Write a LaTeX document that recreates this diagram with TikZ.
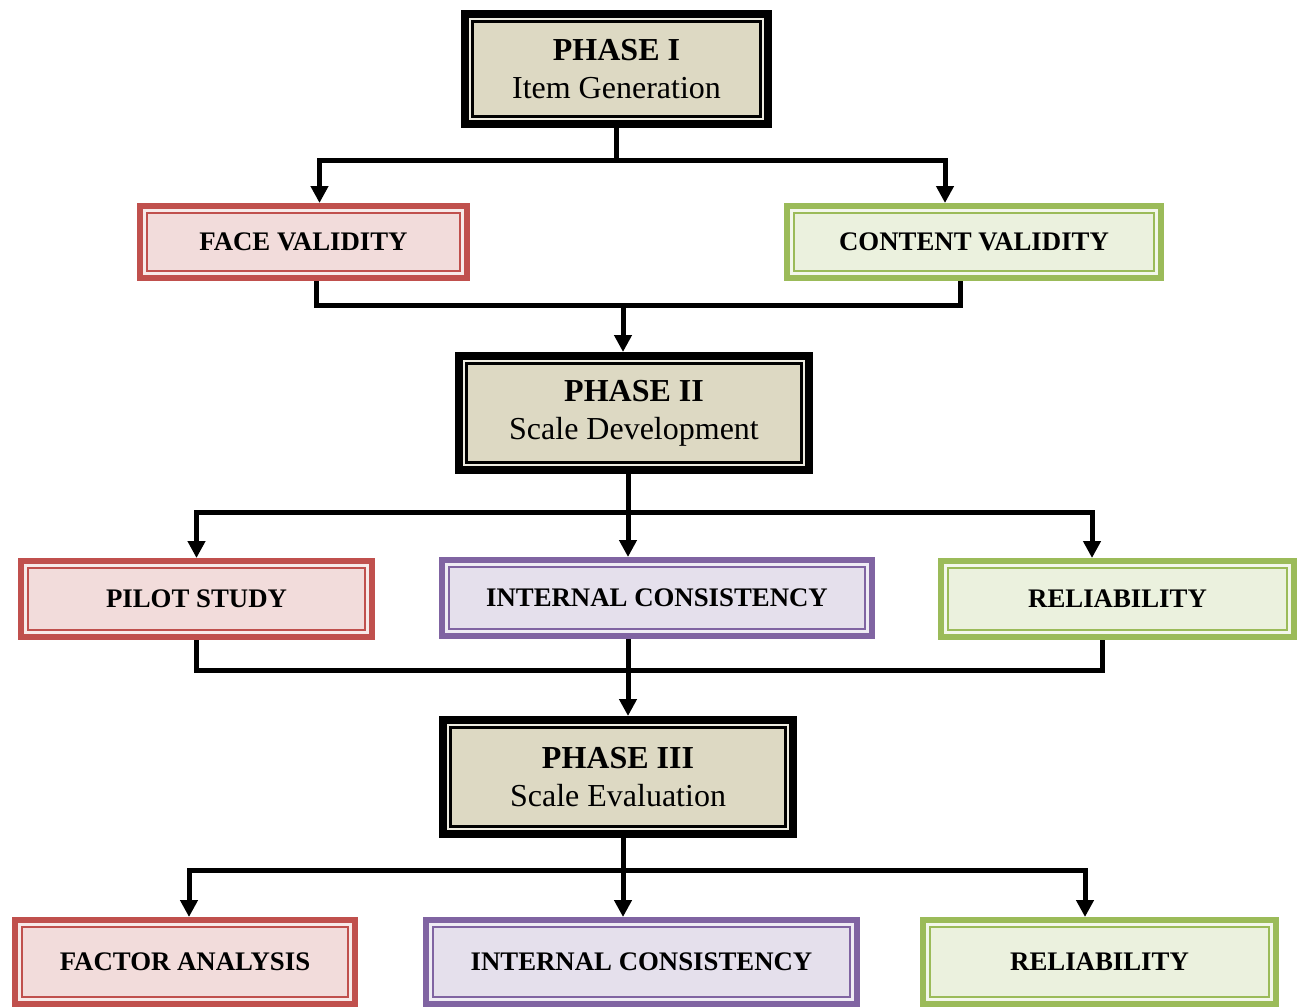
\documentclass[tikz,border=0pt]{standalone}
\usepackage{fontspec}
\setmainfont{Liberation Serif}
\usetikzlibrary{positioning}
\usetikzlibrary{arrows.meta}
\definecolor{phasefill}{HTML}{DDD9C3}
\definecolor{phasegap}{HTML}{EEECE1}
\definecolor{redline}{HTML}{C0504D}
\definecolor{redfill}{HTML}{F2DCDB}
\definecolor{purpleline}{HTML}{8064A2}
\definecolor{purplefill}{HTML}{E5E0EC}
\definecolor{greenline}{HTML}{9BBB59}
\definecolor{greenfill}{HTML}{EBF1DE}
\tikzset{
        boxnode/.style={align=center, inner sep=0pt, font=\bfseries\fontsize{13.4}{15}\selectfont},
        % Thin second frame inside a box: gap colour, line colour, half outer line
        inner_frame/.style n args={3}{path picture={
            \draw[#1, line width=1.1pt] ([shift={(#3+0.55pt,#3+0.55pt)}]path picture bounding box.south west) rectangle ([shift={(-#3-0.55pt,-#3-0.55pt)}]path picture bounding box.north east);
            \draw[#2, line width=1.2pt] ([shift={(#3+1.7pt,#3+1.7pt)}]path picture bounding box.south west) rectangle ([shift={(-#3-1.7pt,-#3-1.7pt)}]path picture bounding box.north east);
        }},
        % Phase boxes
        box_phase/.style={boxnode, draw=black, line width=4pt, fill=phasefill, inner_frame={phasegap}{black}{2pt}, font=\fontsize{16}{19}\selectfont},
        % Red boxes
        box_red/.style={boxnode, draw=redline, line width=3.2pt, fill=redfill, inner_frame={white!40!redfill}{redline}{1.6pt}},
        % Purple boxes
        box_purple/.style={boxnode, draw=purpleline, line width=3.2pt, fill=purplefill, inner_frame={white!40!purplefill}{purpleline}{1.6pt}},
        % Green boxes
        box_green/.style={boxnode, draw=greenline, line width=3.2pt, fill=greenfill, inner_frame={white!40!greenfill}{greenline}{1.6pt}},
        link/.style={line width=2.5pt},
        flow/.style={link, -{Triangle[width=8.5pt,length=8.5pt]}}
}
\begin{document}
\begin{tikzpicture}[x=0.5pt, y=-0.5pt]
    \useasboundingbox (0,0) rectangle (1300,1007);

    % Phase I and the two validity checks
    \node[box_phase, minimum width=151.5pt, minimum height=55pt] (p1) at (616.5,69) {{\bfseries PHASE I}\\Item Generation};
    \node[box_red, minimum width=163.3pt, minimum height=35.8pt] (face) at (303.5,242) {FACE VALIDITY};
    \node[box_green, minimum width=186.8pt, minimum height=35.8pt] (content) at (974,242) {CONTENT VALIDITY};

    % Phase II and its steps
    \node[box_phase, minimum width=175pt, minimum height=57pt] (p2) at (634,413) {{\bfseries PHASE II}\\Scale Development};
    \node[box_red, minimum width=175.3pt, minimum height=37.8pt] (pilot) at (196.5,599) {PILOT STUDY};
    \node[box_purple, minimum width=214.8pt, minimum height=37.8pt] (ic1) at (657,598) {INTERNAL CONSISTENCY};
    \node[box_green, minimum width=176.3pt, minimum height=37.8pt] (rel1) at (1117.5,599) {RELIABILITY};

    % Phase III and its steps
    \node[box_phase, minimum width=175pt, minimum height=57pt] (p3) at (618,777) {{\bfseries PHASE III}\\Scale Evaluation};
    \node[box_red, minimum width=169.8pt, minimum height=41.8pt] (factor) at (185,962) {FACTOR ANALYSIS};
    \node[box_purple, minimum width=215.3pt, minimum height=41.8pt] (ic2) at (641.5,962) {INTERNAL CONSISTENCY};
    \node[box_green, minimum width=176.3pt, minimum height=41.8pt] (rel2) at (1099.5,962) {RELIABILITY};

    % Connectors
    \coordinate (t1) at (616,160);
    \draw[link] (p1.south) -- (p1.south |- t1);
    \draw[flow] (p1.south |- t1) -| ([xshift=8pt]face.north);
    \draw[flow] (p1.south |- t1) -| ([xshift=-14.5pt]content.north);

    \coordinate (m1) at (623,305);
    \draw[link] ([xshift=6.25pt]face.south) |- (m1) -| ([xshift=-7pt]content.south);
    \draw[flow] (m1) -- (m1 |- p2.north);

    \coordinate (t2) at (628,512);
    \draw[link] (t2 |- p2.south) -- (t2);
    \draw[flow] (t2) -| (pilot.north);
    \draw[flow] (t2) -- (t2 |- ic1.north);
    \draw[flow] (t2) -| ([xshift=-12.75pt]rel1.north);

    \coordinate (m2) at (628,670);
    \draw[link] (pilot.south) |- (m2) -| ([xshift=-7.75pt]rel1.south);
    \draw[flow] (m2 |- ic1.south) -- (m2 |- p3.north);

    \coordinate (t3) at (623,870);
    \draw[link] (t3 |- p3.south) -- (t3);
    \draw[flow] (t3) -| ([xshift=2pt]factor.north);
    \draw[flow] (t3) -- (t3 |- ic2.north);
    \draw[flow] (t3) -| ([xshift=-7.25pt]rel2.north);
\end{tikzpicture}
\end{document}
